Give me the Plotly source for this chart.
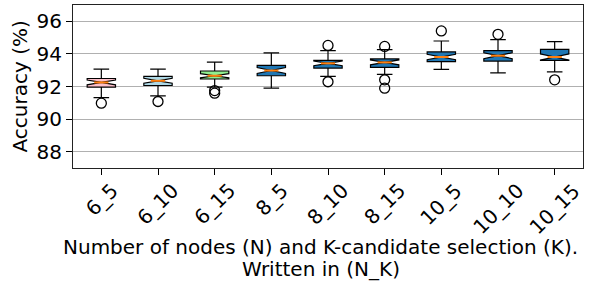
import plotly.graph_objects as go

# ---- data ----
labels = ["6_5", "6_10", "6_15", "8_5", "8_10", "8_15", "10_5", "10_10", "10_15"]
q1 = [91.96, 92.06, 92.46, 92.66, 93.13, 93.17, 93.52, 93.56, 93.60]
medians = [92.25, 92.35, 92.66, 92.98, 93.42, 93.48, 93.81, 93.89, 93.81]
q3 = [92.49, 92.62, 92.95, 93.29, 93.60, 93.69, 94.12, 94.20, 94.28]
lower_whisker = [91.32, 91.43, 91.96, 91.90, 92.62, 92.74, 93.05, 92.84, 92.90]
upper_whisker = [93.07, 93.07, 93.50, 94.06, 94.20, 94.26, 94.79, 94.87, 94.75]
notch_half = [0.15, 0.15, 0.13, 0.18, 0.14, 0.15, 0.17, 0.18, 0.19]
outliers = [
    [90.98],
    [91.08],
    [91.75, 91.59],
    [],
    [94.52, 92.29],
    [94.46, 92.41, 91.90],
    [95.41],
    [95.20],
    [92.41],
]
box_colors = ["pink", "lightblue", "lightgreen", "#1f77b4", "#1f77b4",
              "#1f77b4", "#1f77b4", "#1f77b4", "#1f77b4"]
yticks = [88, 90, 92, 94, 96]

FONT = "DejaVu Sans"
FS = 20
positions = list(range(1, len(labels) + 1))
BOX_W = 0.5
NOTCH_W = 0.5

fig = go.Figure()

for i, p in enumerate(positions):
    fig.add_trace(go.Box(
        x=[p], q1=[q1[i]], median=[medians[i]], q3=[q3[i]],
        lowerfence=[lower_whisker[i]], upperfence=[upper_whisker[i]],
        notched=True, notchspan=[notch_half[i]], notchwidth=NOTCH_W,
        width=BOX_W, whiskerwidth=0.55,
        fillcolor=box_colors[i],
        line=dict(color="black", width=1.2),
        boxpoints=False, showlegend=False, hoverinfo="skip",
    ))

# median lines (orange) across the notch waist
half_waist = BOX_W * (1 - NOTCH_W) / 2
mx, my = [], []
for p, m in zip(positions, medians):
    mx += [p - half_waist, p + half_waist, None]
    my += [m, m, None]
fig.add_trace(go.Scatter(x=mx, y=my, mode="lines",
                         line=dict(color="#ff7f0e", width=2),
                         showlegend=False, hoverinfo="skip"))

# outliers
ox, oy = [], []
for p, outs in zip(positions, outliers):
    for v in outs:
        ox.append(p)
        oy.append(v)
fig.add_trace(go.Scatter(x=ox, y=oy, mode="markers",
                         marker=dict(symbol="circle-open", size=10,
                                     color="black", line=dict(width=1.3)),
                         showlegend=False, hoverinfo="skip"))

annotations = []
for p, lab in zip(positions, labels):
    annotations.append(dict(
        x=p, y=0, xref="x", yref="paper", text=lab, showarrow=False,
        textangle=-45, xanchor="center", yanchor="top", yshift=-8,
        font=dict(family=FONT, size=FS, color="black"),
    ))

plot_top, plot_bottom = 5, 114
plot_h = 282 - plot_top - plot_bottom
plot_l, plot_r = 73, 6
plot_w = 589 - plot_l - plot_r

def py(pix):
    return (282 - plot_bottom - pix) / plot_h

def px(pix):
    return (pix - plot_l) / plot_w

annotations.append(dict(
    x=px(320.5), y=py(247), xref="paper", yref="paper",
    text="Number of nodes (N) and K-candidate selection (K).",
    showarrow=False, xanchor="center", yanchor="middle",
    font=dict(family=FONT, size=FS, color="black"),
))
annotations.append(dict(
    x=px(320.5), y=py(268.5), xref="paper", yref="paper",
    text="Written in (N_K)",
    showarrow=False, xanchor="center", yanchor="middle",
    font=dict(family=FONT, size=FS, color="black"),
))
annotations.append(dict(
    x=px(19), y=0.5, xref="paper", yref="paper",
    text="Accuracy (%)", textangle=-90,
    showarrow=False, xanchor="center", yanchor="middle",
    font=dict(family=FONT, size=FS, color="black"),
))

fig.update_layout(
    width=589, height=282,
    margin=dict(l=plot_l, r=plot_r, t=plot_top, b=plot_bottom,
                autoexpand=False),
    paper_bgcolor="white", plot_bgcolor="white",
    boxmode="overlay",
    font=dict(family=FONT, size=FS, color="black"),
    annotations=annotations,
    xaxis=dict(
        range=[0.5, len(labels) + 0.5], tickvals=positions,
        showticklabels=False, ticks="outside", ticklen=6, tickwidth=1,
        tickcolor="black", showgrid=False, zeroline=False,
        showline=True, linecolor="#222", linewidth=1, mirror=True,
    ),
    yaxis=dict(
        range=[87, 97], tickvals=yticks, ticks="outside", ticklen=6,
        tickwidth=1, tickcolor="black",
        tickfont=dict(family=FONT, size=FS, color="black"),
        showgrid=True, gridcolor="#b0b0b0", gridwidth=1, zeroline=False,
        showline=True, linecolor="#222", linewidth=1, mirror=True,
    ),
)

fig.write_html("out.html", config={"displayModeBar": False},
               post_script="document.body.style.margin='0';document.body.style.overflow='hidden';")
